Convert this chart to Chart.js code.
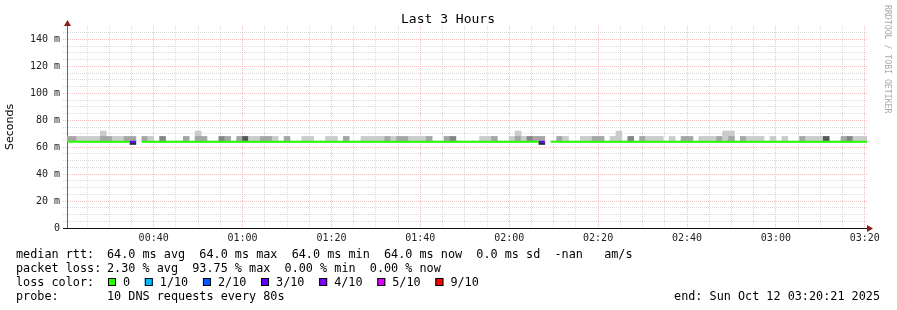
<!DOCTYPE html>
<html><head><meta charset="utf-8">
<script src="https://cdn.jsdelivr.net/npm/chart.js@4/dist/chart.umd.min.js"></script>
<style>html,body{margin:0;padding:0;background:#fff}#wrap{width:897px;height:310px;position:relative}</style>
</head><body><div id="wrap"><canvas id="c"></canvas></div>
<script>
// ---- time base (minutes after midnight) ----
const firstStepMinute = 20;        // first 80 s step starts 00:20:00
const stepSeconds = 80;
const axisStartMinute = 20.5;
const axisEndMinute = 200.5;
const yMaxMs = 150;

// ---- per-step series (136 steps of 80 s) ----
const medianMs = [
 64,64,64,64,64,64,64,64,64,64,64,64,null,64,64,64,64,64,64,64,
 64,64,64,64,64,64,64,64,64,64,64,64,64,64,64,64,64,64,64,64,
 64,64,64,64,64,64,64,64,64,64,64,64,64,64,64,64,64,64,64,64,
 64,64,64,64,64,64,64,64,64,64,64,64,64,64,64,64,64,64,64,64,
 64,null,64,64,64,64,64,64,64,64,64,64,64,64,64,64,64,64,64,64,
 64,64,64,64,64,64,64,64,64,64,64,64,64,64,64,64,64,64,64,64,
 64,64,64,64,64,64,64,64,64,64,64,64,64,64,64,64
];
const lossLevel = [
 0,0,0,0,0,0,0,0,0,0,0,3,null,0,0,0,0,0,0,0,
 0,0,0,0,0,0,0,0,0,0,0,0,0,0,0,0,0,0,0,0,
 0,0,0,0,0,0,0,0,0,0,0,0,0,0,0,0,0,0,0,0,
 0,0,0,0,0,0,0,0,0,0,0,0,0,0,0,0,0,0,0,0,
 3,null,0,0,0,0,0,0,0,0,0,0,0,0,0,0,0,0,0,0,
 0,0,0,0,0,0,0,0,0,0,0,0,0,0,0,0,0,0,0,0,
 0,0,0,0,0,0,0,0,0,0,0,0,0,0,0,0
];
const smokeTop = [
 68,68,68,68,68,68,68,68,68,68,68,68,null,68,68,null,68,null,null,null,
 68,null,68,68,null,null,68,68,null,68,68,68,68,68,68,68,null,68,null,null,
 68,68,null,null,68,68,null,68,null,null,68,68,68,68,68,68,68,68,68,68,
 68,68,null,null,68,68,null,null,null,null,68,68,68,null,null,68,68,68,68,68,
 68,null,null,68,68,null,null,68,68,68,68,null,68,68,null,68,null,68,68,68,
 68,null,68,null,68,68,null,68,68,68,68,68,68,null,68,68,68,68,null,68,
 null,68,null,null,68,68,68,68,68,null,null,68,68,68,68,68
];
const smokeDensity = [
 2,2,1,1,1,1,2,2,1,1,2,2,0,2,1,0,3,0,0,0,
 2,0,2,2,0,0,3,2,0,2,4,1,1,2,2,1,0,2,0,0,
 1,1,0,0,1,1,0,2,0,0,1,1,1,1,2,1,2,2,1,1,
 1,2,0,0,2,3,0,0,0,0,1,1,2,0,0,1,2,1,3,2,
 2,0,0,2,1,0,0,1,1,2,2,0,1,1,0,3,0,2,1,1,
 1,0,1,0,2,2,0,1,1,1,2,1,2,0,2,1,1,1,0,1,
 0,1,0,0,2,1,1,1,4,0,0,2,3,1,1,1
];
const spikeTop = [
 null,null,null,null,null,null,72,null,null,null,null,null,null,null,null,null,null,null,null,null,
 null,null,72,null,null,null,null,null,null,null,null,null,null,null,null,null,null,null,null,null,
 null,null,null,null,null,null,null,null,null,null,null,null,null,null,null,null,null,null,null,null,
 null,null,null,null,null,null,null,null,null,null,null,null,null,null,null,null,72,null,null,null,
 null,null,null,null,null,null,null,null,null,null,null,null,null,72,null,null,null,null,null,null,
 null,null,null,null,null,null,null,null,null,null,null,72,72,null,null,null,null,null,null,null,
 null,null,null,null,null,null,null,null,null,null,null,null,null,null,null,null
];
const smokeLow = [
 null,null,null,null,null,null,null,null,null,null,null,62,null,null,null,null,null,null,null,null,
 null,null,null,null,null,null,null,null,null,null,null,null,null,null,null,null,null,null,null,null,
 null,null,null,null,null,null,null,null,null,null,null,null,null,null,null,null,null,null,null,null,
 null,null,null,null,null,null,null,null,null,null,null,null,null,null,null,null,null,null,null,null,
 62,null,null,null,null,null,null,null,null,null,null,null,null,null,null,null,null,null,null,null,
 null,null,null,null,null,null,null,null,null,null,null,null,null,null,null,null,null,null,null,null,
 null,null,null,null,null,null,null,null,null,null,null,null,null,null,null,null
];

// ---- legend contents ----
const rttStats = ['64.0', '64.0', '64.0', '64.0', '0.0'];
const lossStats = ['2.30', '93.75', '0.00', '0.00'];
const lossLabels = ['0', '1/10', '2/10', '3/10', '4/10', '5/10', '9/10'];
const lossColors = ['#26ff00', '#00b8ff', '#0059ff', '#5e00ff', '#7e00ff', '#dd00ff', '#ff0000'];
const probeText = '10 DNS requests every 80s';
const endText = 'end: Sun Oct 12 03:20:21 2025';
const titleText = 'Last 3 Hours';

// ---- styles ----
const shadeColors = [null, '#cbcbcb', '#a6a6a6', '#868686', '#585858'];
const MAJOR = 'rgba(240,150,150,0.6)';
const MINOR = 'rgba(190,190,190,0.55)';
const MONO = "'DejaVu Sans Mono', 'Liberation Mono', monospace";

const stepMin = stepSeconds / 60;
const stepStart = i => firstStepMinute + i * stepMin;

const smokeData = [], spikeData = [], lowData = [], lineData = [];
medianMs.forEach((m, i) => {
  const c = stepStart(i) + stepMin / 2;
  if (smokeTop[i] != null && m != null) smokeData.push({x: c, y: [m, smokeTop[i]], s: smokeDensity[i]});
  if (spikeTop[i] != null && m != null) spikeData.push({x: c, y: [m, spikeTop[i]]});
  if (smokeLow[i] != null && m != null) lowData.push({x: c, y: [smokeLow[i], m]});
  lineData.push({x: stepStart(i), y: m}, {x: stepStart(i + 1), y: m});
});

const gridMinutes = [];
for (let v = Math.ceil(axisStartMinute / 5) * 5; v <= axisEndMinute; v += 5) gridMinutes.push(v);

const pad2 = n => String(n).padStart(2, '0');
const clock = v => pad2(Math.floor(v / 60)) + ':' + pad2(v % 60);

const decor = {
  id: 'rrdDecor',
  afterDraw(chart) {
    const ctx = chart.ctx, a = chart.chartArea;
    ctx.save();
    // title
    ctx.fillStyle = '#000';
    ctx.font = '13px ' + MONO;
    ctx.textAlign = 'center'; ctx.textBaseline = 'middle';
    ctx.fillText(titleText, 448, 20);
    // axis extensions
    const L = Math.round(a.left) + 0.5, B = Math.round(a.bottom) + 0.5;
    ctx.strokeStyle = '#666'; ctx.lineWidth = 1;
    ctx.beginPath(); ctx.moveTo(L, a.top); ctx.lineTo(L, a.top - 3); ctx.stroke();
    ctx.strokeStyle = '#111';
    ctx.beginPath(); ctx.moveTo(a.left - 4, B); ctx.lineTo(a.right + 1, B); ctx.stroke();
    // arrows
    ctx.fillStyle = '#8b1c1c';
    ctx.beginPath(); ctx.moveTo(L, a.top - 6); ctx.lineTo(L - 3.5, a.top); ctx.lineTo(L + 3.5, a.top); ctx.closePath(); ctx.fill();
    ctx.beginPath(); ctx.moveTo(a.right + 6, B); ctx.lineTo(a.right, B - 3.5); ctx.lineTo(a.right, B + 3.5); ctx.closePath(); ctx.fill();
    // legend
    ctx.fillStyle = '#000';
    ctx.font = '11.8px ' + MONO;
    ctx.textAlign = 'left'; ctx.textBaseline = 'alphabetic';
    const cw = ctx.measureText('0').width;
    const x0 = 16, x1 = 107;
    ctx.fillText('median rtt:', x0, 258);
    ctx.fillText(rttStats[0] + ' ms avg  ' + rttStats[1] + ' ms max  ' + rttStats[2] + ' ms min  ' +
                 rttStats[3] + ' ms now  ' + rttStats[4] + ' ms sd  -nan   am/s', x1, 258);
    ctx.fillText('packet loss:', x0, 272);
    ctx.fillText(lossStats[0] + ' % avg  ' + lossStats[1] + ' % max  ' + lossStats[2] + ' % min  ' +
                 lossStats[3] + ' % now', x1, 272);
    ctx.fillText('loss color:', x0, 286);
    let sx = 108;
    lossLabels.forEach((lab, k) => {
      ctx.fillStyle = lossColors[k];
      ctx.fillRect(sx, 278, 8, 8);
      ctx.strokeStyle = '#000';
      ctx.strokeRect(sx + 0.5, 278.5, 7, 7);
      ctx.fillStyle = '#000';
      ctx.fillText(lab, sx + 15, 286);
      sx = sx + 15 + lab.length * cw + 2 * cw + 0.5;
    });
    ctx.fillText('probe:', x0, 300);
    ctx.fillText(probeText, x1, 300);
    ctx.textAlign = 'right';
    ctx.fillText(endText, 880, 300);
    // watermark
    ctx.save();
    ctx.translate(887, 5);
    ctx.rotate(Math.PI / 2);
    ctx.font = '8.2px ' + MONO;
    ctx.fillStyle = '#aaaaaa';
    ctx.textAlign = 'left'; ctx.textBaseline = 'middle';
    ctx.fillText('RRDTOOL / TOBI OETIKER', 0, 0);
    ctx.restore();
    ctx.restore();
  }
};

const gridColor = (v, isY) => {
  if (isY && (v === 0 || v >= yMaxMs)) return 'rgba(0,0,0,0)';
  return v % 20 === 0 ? MAJOR : MINOR;
};

new Chart(document.getElementById('c'), {
  type: 'bar',
  data: {
    datasets: [
      {type: 'line', data: lineData, borderWidth: 2, pointRadius: 0, spanGaps: false, borderColor: lossColors[0],
       borderCapStyle: 'butt',
       segment: {borderColor: c => { const l = lossLevel[c.p0DataIndex >> 1]; return lossColors[l == null ? 0 : l]; }}},
      {data: smokeData, grouped: false, barPercentage: 1, categoryPercentage: 1, borderWidth: 0,
       backgroundColor: c => (c.raw ? shadeColors[c.raw.s] : '#ccc')},
      {data: spikeData, grouped: false, barPercentage: 1, categoryPercentage: 1, borderWidth: 0, backgroundColor: shadeColors[1]},
      {data: lowData, grouped: false, barPercentage: 1, categoryPercentage: 1, borderWidth: 0, backgroundColor: '#2e2e3a'}
    ]
  },
  options: {
    responsive: true, maintainAspectRatio: false, animation: false, devicePixelRatio: 1, events: [],
    layout: {padding: {left: 0, top: 26, right: 30, bottom: 0}},
    plugins: {legend: {display: false}, tooltip: {enabled: false}, title: {display: false}},
    scales: {
      x: {
        type: 'linear', min: axisStartMinute, max: axisEndMinute, offset: false,
        afterBuildTicks: s => { s.ticks = gridMinutes.map(v => ({value: v})); },
        afterFit: s => { s.height = 82; s.paddingLeft = 0; s.paddingRight = 0; s.paddingTop = 0; s.paddingBottom = 0; },
        ticks: {autoSkip: false, maxRotation: 0, padding: 4, color: '#222',
                font: {family: MONO, size: 10},
                callback: v => (v % 20 === 0 ? clock(v) : '')},
        grid: {offset: false, drawTicks: false, lineWidth: 1, color: c => gridColor(c.tick ? c.tick.value : 1, false)},
        border: {display: true, color: '#111', dash: [1, 1]}
      },
      y: {
        min: 0, max: yMaxMs,
        afterFit: s => { s.width = 67; s.paddingTop = 0; s.paddingBottom = 0; },
        ticks: {stepSize: 5, autoSkip: false, padding: 3, color: '#222',
                font: {family: MONO, size: 10},
                callback: v => (v % 20 === 0 ? (v === 0 ? '0' : v + ' m') : '')},
        grid: {lineWidth: 1, tickLength: 4, tickBorderDash: [1, 1],
               color: c => gridColor(c.tick ? c.tick.value : 1, true),
               tickColor: c => (c.tick && c.tick.value % 20 === 0 ? MAJOR : MINOR)},
        border: {display: true, color: '#666', dash: [1, 1]},
        title: {display: true, text: 'Seconds', color: '#000', font: {family: "'DejaVu Sans'", size: 11}, padding: {top: 4, bottom: 0}}
      }
    }
  },
  plugins: [decor]
});
</script>
</body></html>
